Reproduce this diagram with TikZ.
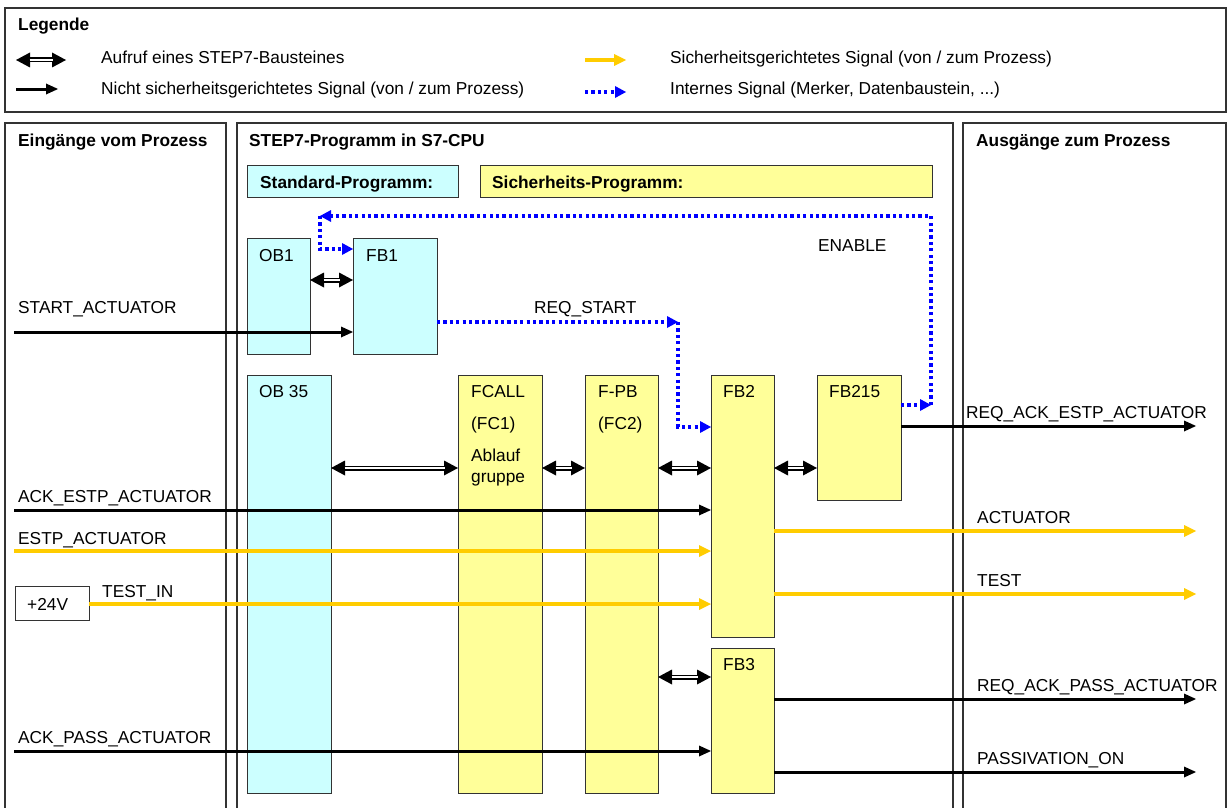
\documentclass[tikz,border=0pt]{standalone}
\usepackage{fontspec}
\setmainfont{Liberation Sans}
\usetikzlibrary{arrows.meta}
\definecolor{cyanfill}{HTML}{CCFFFF}
\definecolor{yelfill}{HTML}{FFFF99}
\definecolor{sigyel}{HTML}{FFCC00}
\definecolor{sigblue}{HTML}{0000FF}
\definecolor{bord}{HTML}{333333}
\begin{document}
\begin{tikzpicture}[x=1pt,y=-1pt,
  font=\fontsize{17.3}{20}\selectfont,
  panel/.style={draw=bord, line width=1.1pt},
  box/.style={draw=bord, line width=1pt, anchor=north west, inner sep=0pt, outer sep=0pt},
  cbox/.style={box, fill=cyanfill},
  ybox/.style={box, fill=yelfill},
  txt/.style={anchor=mid west, inner sep=0pt, yshift=-4pt},
  btxt/.style={txt, font=\fontsize{17.3}{20}\selectfont\bfseries},
  sig/.style={draw=black, line width=3pt, -{Triangle[length=12pt,width=11pt,line width=0pt]}},
  ysig/.style={draw=sigyel, line width=3.4pt, -{Triangle[length=12pt,width=12pt,line width=0pt]}},
  dotsig/.style={draw=sigblue, line width=3.2pt, dash pattern=on 3.2pt off 3.2pt, -{Triangle[length=11pt,width=12pt,line width=0pt]}},
  dbl/.style={draw=black, line width=5pt, {Triangle[length=14pt,width=15pt,line width=0pt]}-{Triangle[length=14pt,width=15pt,line width=0pt]},
    postaction={draw=white, line width=2.2pt, shorten <=13.5pt, shorten >=13.5pt, -}}
]
\useasboundingbox (0,0) rectangle (1229,808);
\fill[white] (0,0) rectangle (1229,808);

% legend
\draw[panel] (5,8) rectangle (1226,112);
\node[btxt] (legtitle) at (18,24) {Legende};
\coordinate (lg1a) at (16,60); \coordinate (lg1b) at (66,60);
\draw[dbl] (lg1a) -- (lg1b);
\node[txt] (lgt1) at (101,57) {Aufruf eines STEP7-Bausteines};
\coordinate (lg2a) at (16,89); \coordinate (lg2b) at (58,89);
\draw[sig] (lg2a) -- (lg2b);
\node[txt] (lgt2) at (101,88) {Nicht sicherheitsgerichtetes Signal (von / zum Prozess)};
\coordinate (lg3a) at (585,60); \coordinate (lg3b) at (626,60);
\draw[ysig] (lg3a) -- (lg3b);
\node[txt] (lgt3) at (670,57) {Sicherheitsgerichtetes Signal (von / zum Prozess)};
\coordinate (lg4a) at (585,92); \coordinate (lg4b) at (626,92);
\draw[dotsig] (lg4a) -- (lg4b);
\node[txt] (lgt4) at (670,88) {Internes Signal (Merker, Datenbaustein, ...)};

% panels
\draw[panel] (5,810) -- (5,123) -- (226,123) -- (226,810);
\draw[panel] (237,810) -- (237,123) -- (953,123) -- (953,810);
\draw[panel] (963,810) -- (963,123) -- (1226,123) -- (1226,810);
\node[btxt] (p1) at (18,140) {Eingänge vom Prozess};
\node[btxt] (p2) at (249,140) {STEP7-Programm in S7-CPU};
\node[btxt] (p3) at (976,140) {Ausgänge zum Prozess};

% header boxes
\node[cbox, minimum width=211pt, minimum height=32pt] (stdp) at (247,165) {};
\node[btxt] (stdpt) at (260,182) {Standard-Programm:};
\node[ybox, minimum width=452pt, minimum height=32pt] (sichp) at (480,165) {};
\node[btxt] (sichpt) at (492,182) {Sicherheits-Programm:};

% blocks
\node[cbox, minimum width=63pt, minimum height=116pt] (ob1) at (247,238) {};
\node[txt] (ob1t) at (259,255) {OB1};
\node[cbox, minimum width=84pt, minimum height=116pt] (fb1) at (353,238) {};
\node[txt] (fb1t) at (366,255) {FB1};
\node[cbox, minimum width=84pt, minimum height=418pt] (ob35) at (247,375) {};
\node[txt] (ob35t) at (259,391) {OB 35};
\node[ybox, minimum width=84pt, minimum height=418pt] (fcall) at (458,375) {};
\node[txt] (fcallt1) at (471,391) {FCALL};
\node[txt] (fcallt2) at (471,423) {(FC1)};
\node[txt] (fcallt3) at (471,455) {Ablauf};
\node[txt] (fcallt4) at (471,476) {gruppe};
\node[ybox, minimum width=73pt, minimum height=418pt] (fpb) at (585,375) {};
\node[txt] (fpbt1) at (598,391) {F-PB};
\node[txt] (fpbt2) at (598,423) {(FC2)};
\node[ybox, minimum width=63pt, minimum height=262pt] (fb2) at (711,375) {};
\node[txt] (fb2t) at (723,391) {FB2};
\node[ybox, minimum width=84pt, minimum height=125pt] (fb215) at (817,375) {};
\node[txt] (fb215t) at (829,391) {FB215};
\node[ybox, minimum width=63pt, minimum height=145pt] (fb3) at (711,648) {};
\node[txt] (fb3t) at (723,664) {FB3};
\node[box, fill=white, minimum width=74pt, minimum height=34pt] (v24) at (15,586) {};
\node[txt] (v24t) at (27,604) {+24V};

% call arrows
\coordinate (c1) at (0,280);
\draw[dbl] (ob1.east |- c1) -- (fb1.west |- c1);
\coordinate (c2) at (0,468);
\draw[dbl] (ob35.east |- c2) -- (fcall.west |- c2);
\draw[dbl] (fcall.east |- c2) -- (fpb.west |- c2);
\draw[dbl] (fpb.east |- c2) -- (fb2.west |- c2);
\draw[dbl] (fb2.east |- c2) -- (fb215.west |- c2);
\coordinate (c3) at (0,677);
\draw[dbl] (fpb.east |- c3) -- (fb3.west |- c3);

% internal signals
\coordinate (r1) at (678,322);
\coordinate (r2) at (678,427);
\draw[dotsig] (fb1.east |- r1) -- (r1);
\draw[dotsig] (r1) -- (r2) -- (r2 -| fb2.west);
\node[txt] (reqstart) at (534,307) {REQ\_START};
\coordinate (e1) at (931,405);
\coordinate (e2) at (931,216);
\coordinate (e3) at (320,216);
\coordinate (e4) at (320,249);
\draw[dotsig] (fb215.east |- e1) -- (e1);
\draw[dotsig] (e1) -- (e2) -- (e3);
\draw[dotsig] (e3) -- (e4) -- (e4 -| fb1.west);
\node[txt] (enable) at (818,245) {ENABLE};

% inputs
\coordinate (i1) at (14,332);
\draw[sig] (i1) -- (i1 -| fb1.west);
\node[txt] (i1t) at (18,307) {START\_ACTUATOR};
\coordinate (i2) at (14,510);
\draw[sig] (i2) -- (i2 -| fb2.west);
\node[txt] (i2t) at (18,496) {ACK\_ESTP\_ACTUATOR};
\coordinate (i3) at (14,551);
\draw[ysig] (i3) -- (i3 -| fb2.west);
\node[txt] (i3t) at (18,538) {ESTP\_ACTUATOR};
\coordinate (i4) at (0,604);
\draw[ysig] (v24.east |- i4) -- (i4 -| fb2.west);
\node[txt] (i4t) at (102,591) {TEST\_IN};
\coordinate (i5) at (14,751);
\draw[sig] (i5) -- (i5 -| fb3.west);
\node[txt] (i5t) at (18,737) {ACK\_PASS\_ACTUATOR};

% outputs
\coordinate (o1) at (1196,426);
\draw[sig] (fb215.east |- o1) -- (o1);
\node[txt] (o1t) at (966,412) {REQ\_ACK\_ESTP\_ACTUATOR};
\coordinate (o2) at (1196,531);
\draw[ysig] (fb2.east |- o2) -- (o2);
\node[txt] (o2t) at (977,517) {ACTUATOR};
\coordinate (o3) at (1196,594);
\draw[ysig] (fb2.east |- o3) -- (o3);
\node[txt] (o3t) at (977,580) {TEST};
\coordinate (o4) at (1196,699);
\draw[sig] (fb3.east |- o4) -- (o4);
\node[txt] (o4t) at (977,685) {REQ\_ACK\_PASS\_ACTUATOR};
\coordinate (o5) at (1196,772);
\draw[sig] (fb3.east |- o5) -- (o5);
\node[txt] (o5t) at (977,758) {PASSIVATION\_ON};
\end{tikzpicture}
\end{document}
